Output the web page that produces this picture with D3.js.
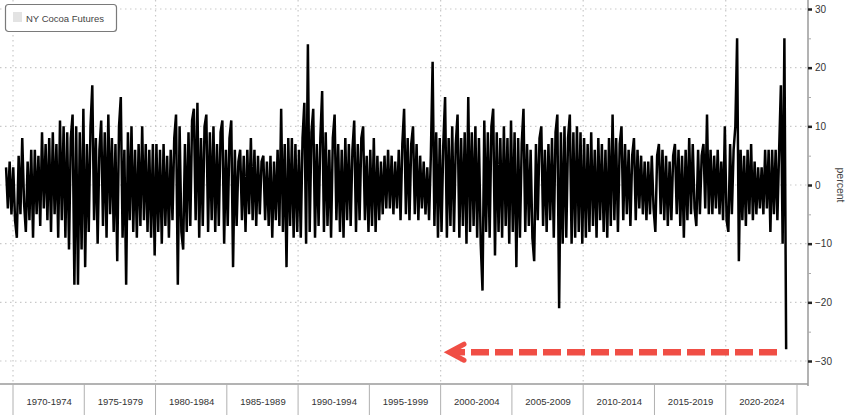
<!DOCTYPE html>
<html>
<head>
<meta charset="utf-8">
<script src="https://cdn.jsdelivr.net/npm/d3@7/dist/d3.min.js"></script>
<style>
  html, body { margin: 0; padding: 0; background: #fff; }
  svg { display: block; }
  text { font-family: "Liberation Sans", Arial, sans-serif; }
</style>
</head>
<body>
<svg id="chart" width="848" height="415"></svg>
<script>
// ---------------- DATA ----------------
const periodLabels = ["1970-1974","1975-1979","1980-1984","1985-1989","1990-1994","1995-1999",
                      "2000-2004","2005-2009","2010-2014","2015-2019","2020-2024"];
const periodStarts = [1970,1975,1980,1985,1990,1995,2000,2005,2010,2015,2020];
const seriesStart = 1969.45;   // first observation
const seriesEnd = 2024.3;      // last observation
const yTicks = [30, 20, 10, 0, -10, -20, -30];
const yMinorTicks = [25, 15, 5, -5, -15, -25];
const gridYears = [1970, 1980, 1990, 2000, 2010, 2020];
const seriesName = "NY Cocoa Futures";

// weekly % change of NY cocoa futures, one array per 5-year period
const v1970 = [3,-4,4,-5,3,-6,-9,5,-5,8,-3,-8,4,-6,6,-9,6,-5,5,-7,9,-4,7,-6,8,-8,9,-5,7,-9,11,-6,10,-9,9,-11,8,12,-17,10,-17,9,-11,13];
const v1975 = [-14,7,-8,10,17,-6,8,-10,6,11,-7,9,-9,12,-5,8,-8,7,-13,10,15,-9,6,-17,9,-6,10,-8,6,-9,7,-7,10,-6,7,-8,6,-9,7,-12];
const v1980 = [7,-8,6,-10,7,-7,5,-9,6,-6,8,12,-17,10,-8,-11,7,-8,9,-7,11,13,-6,14,-9,8,-7,10,12,-8,9,-6,10,-8,7,-7,9,11,-10,6];
const v1985 = [-7,8,11,-14,6,-7,4,6,-6,5,-8,6,-5,8,-6,6,-7,5,-5,4,5,-6,4,-7,5,-9,4,-6,6,-7,13,-8,7,-14,8,-7,8,-9,7,-8];
const v1990 = [6,-9,8,14,-10,24,-8,9,13,-9,7,-7,8,16,-8,9,-7,6,-9,8,12,-6,7,-8,6,-9,8,-6,7,-7,6,11,-8,7,-6,8,10,-6,5,-8];
const v1995 = [6,-7,8,-8,5,-6,4,-5,5,-4,6,-4,5,-5,4,-4,6,-6,7,13,-5,8,-6,7,10,-5,7,-6,5,-4,4,-5,3,-6,5,21,-7,9,-9,8];
const v2000 = [-8,7,15,-9,8,-7,10,-8,7,12,-9,8,-7,9,-10,15,-8,9,-7,10,-9,8,-10,-18,11,-8,9,-9,10,13,-12,9,-8,8,-9,10,-7,8,-10,11];
const v2005 = [-8,9,-14,8,-9,7,13,-8,7,-7,6,-9,-13,7,-6,8,10,-7,6,-8,7,-6,8,-9,9,12,-21,9,-10,10,-9,8,12,-10,9,-9,10,-8,9,-10];
const v2010 = [8,-9,7,-8,9,-7,6,-9,8,-6,7,-8,6,-9,8,-7,12,-6,8,-8,7,10,-6,7,-5,6,-7,5,8,-6,6,-4,5,-5,4,-6,4,-5,5,-4];
const v2015 = [-8,5,7,-5,6,-6,5,-7,4,-6,5,7,-5,6,-7,5,-9,6,-6,8,-5,7,-4,-7,6,-5,5,7,-4,12,-5,6,-5,5,-4,6,-5,4,-6,10];
const v2020 = [-6,-8,7,-5,6,10,25,-13,6,-6,5,-7,6,-5,7,-6,4,-5,3,-4,3,-5,6,-4,6,-8,6,-5,6,-6,6,17,-10,25,-28];
const periodValues = [v1970,v1975,v1980,v1985,v1990,v1995,v2000,v2005,v2010,v2015,v2020];

// ---------------- BUILD POINTS ----------------
const points = [];
periodValues.forEach((arr, k) => {
  const t0 = k === 0 ? seriesStart : periodStarts[k];
  const t1 = k === periodValues.length - 1 ? seriesEnd : periodStarts[k] + 5;
  arr.forEach((v, i) => points.push({ t: t0 + (i + 0.5) * (t1 - t0) / arr.length, v }));
});

// ---------------- CHART ----------------
const svg = d3.select("#chart");
const plotRight = 808, axisY = 384;
const x = d3.scaleLinear().domain([1970, 2025]).range([13, 797]);
const y = d3.scaleLinear().domain([-30, 30]).range([361, 9]);

// grid
const grid = svg.append("g").attr("stroke", "#c9c9c9").attr("stroke-width", 1.2)
  .attr("stroke-dasharray", "1.5,3.5");
grid.selectAll("line.h").data(yTicks).join("line").attr("class", "h")
  .attr("x1", 0).attr("x2", plotRight).attr("y1", d => y(d)).attr("y2", d => y(d));
grid.selectAll("line.v").data(gridYears).join("line").attr("class", "v")
  .attr("x1", d => x(d)).attr("x2", d => x(d)).attr("y1", 0).attr("y2", axisY);

// series
svg.append("path").datum(points)
  .attr("fill", "none").attr("stroke", "#000").attr("stroke-width", 2.5)
  .attr("stroke-linejoin", "bevel")
  .attr("d", d3.line().x(d => x(d.t)).y(d => y(d.v)));

// bottom axis line & period bands
svg.append("line").attr("x1", 0).attr("x2", plotRight).attr("y1", axisY).attr("y2", axisY)
  .attr("stroke", "#9a9a9a").attr("stroke-width", 1.5);
const bounds = periodStarts.concat([2025]);
svg.append("g").selectAll("line").data(bounds).join("line")
  .attr("x1", d => x(d)).attr("x2", d => x(d)).attr("y1", axisY).attr("y2", 415)
  .attr("stroke", "#b0b0b0").attr("stroke-width", 1);
const xAxis = d3.axisBottom(x)
  .tickValues(periodStarts.map(s => s + 2.5))
  .tickFormat((d, i) => periodLabels[i])
  .tickSize(0).tickPadding(0);
const gx = svg.append("g").attr("transform", `translate(0,${axisY + 14})`).call(xAxis);
gx.select(".domain").remove();
gx.selectAll("text").attr("font-size", 9.5).attr("fill", "#333")
  .attr("font-family", "Liberation Sans, Arial, sans-serif");

// right axis
svg.append("line").attr("x1", plotRight).attr("x2", plotRight).attr("y1", 0).attr("y2", axisY + 2)
  .attr("stroke", "#9a9a9a").attr("stroke-width", 1.5);
const minor = svg.append("g").attr("transform", `translate(${plotRight},0)`)
  .call(d3.axisRight(y).tickValues(yMinorTicks).tickSize(3).tickFormat(""));
minor.select(".domain").remove();
minor.selectAll("line").attr("stroke", "#aaa");
const yAxis = d3.axisRight(y).tickValues(yTicks).tickSize(4).tickPadding(3)
  .tickFormat(d => d3.format("d")(d));
const gy = svg.append("g").attr("transform", `translate(${plotRight},0)`).call(yAxis);
gy.select(".domain").remove();
gy.selectAll("line").attr("stroke", "#222").attr("stroke-width", 2.5);
gy.selectAll("text").attr("font-size", 10).attr("fill", "#333")
  .attr("font-family", "Liberation Sans, Arial, sans-serif");

svg.append("text").attr("transform", `translate(837,${y(0)}) rotate(90)`)
  .attr("text-anchor", "middle").attr("font-size", 10.5).attr("fill", "#444")
  .text("percent");

// legend
const lg = svg.append("g");
lg.append("rect").attr("x", 5.5).attr("y", 4.5).attr("width", 111).attr("height", 27).attr("rx", 3)
  .attr("fill", "#fff").attr("stroke", "#7a7a7a").attr("stroke-width", 1.2);
lg.append("rect").attr("x", 13).attr("y", 12).attr("width", 9).attr("height", 10).attr("fill", "#e3e3e3");
lg.append("text").attr("x", 26).attr("y", 21.5).attr("font-size", 9.5).attr("fill", "#444").text(seriesName);

// red dashed arrow annotation (points at the latest weekly drop)
const arrowY = y(-28.5);
const ann = svg.append("g").attr("stroke", "#f04e45").attr("fill", "none");
ann.append("line").attr("x1", 471).attr("x2", 777).attr("y1", arrowY).attr("y2", arrowY)
  .attr("stroke-width", 6.5).attr("stroke-dasharray", "18,6");
ann.append("path").attr("d", `M464,${arrowY - 8} L449,${arrowY} L464,${arrowY + 8}`)
  .attr("stroke-width", 5).attr("stroke-linejoin", "miter").attr("stroke-linecap", "round");
ann.append("line").attr("x1", 451).attr("x2", 465).attr("y1", arrowY).attr("y2", arrowY)
  .attr("stroke-width", 6.5);
</script>
</body>
</html>
